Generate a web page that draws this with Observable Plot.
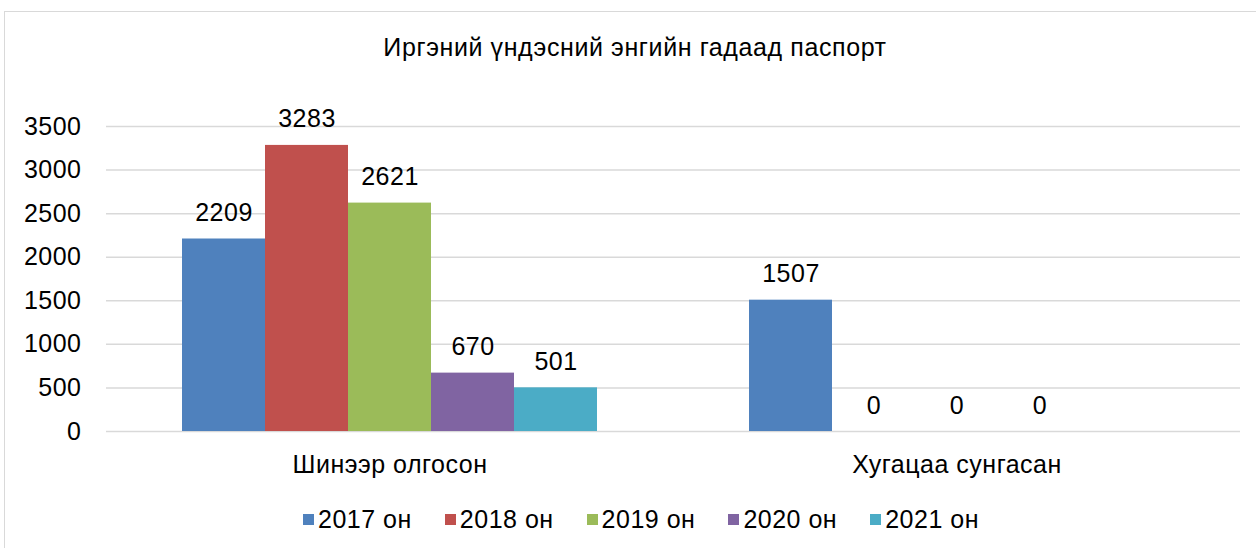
<!DOCTYPE html>
<html>
<head>
<meta charset="utf-8">
<script src="https://cdn.jsdelivr.net/npm/d3@7"></script>
<script src="https://cdn.jsdelivr.net/npm/@observablehq/plot@0.6"></script>
<style>
  html, body { margin: 0; padding: 0; background: #fff; overflow: hidden; width: 1256px; height: 548px; }
  body { position: relative; font-family: "Liberation Sans", Arial, sans-serif; color: #000; }
  #frame { position: absolute; left: 4px; top: 11px; width: 1300px; height: 600px; border: 1px solid #d9d9d9; box-sizing: border-box; }
  #chart { position: absolute; left: 0; top: 0; }
  #title { position: absolute; left: 0; width: 1270px; top: 33px; text-align: center; font-size: 25px; letter-spacing: 0.6px; line-height: 28px; }
  #legend { position: absolute; left: 0; width: 1282px; top: 505px; display: flex; justify-content: center; gap: 33px; font-size: 25px; letter-spacing: 0.5px; line-height: 28px; }
  #legend .item { display: flex; align-items: center; }
  #legend .sw { width: 11px; height: 11px; margin-right: 4px; }
</style>
</head>
<body>
<div id="frame"></div>
<div id="chart"></div>
<div id="title"></div>
<div id="legend"></div>
<script>
const titleText = "Иргэний үндэсний энгийн гадаад паспорт";
const groups = ["Шинээр олгосон", "Хугацаа сунгасан"];
const years = ["2017 он", "2018 он", "2019 он", "2020 он", "2021 он"];
const colors = ["#4F81BD", "#C0504D", "#9BBB59", "#8064A2", "#4BACC6"];
const valuesNew = [2209, 3283, 2621, 670, 501];
const valuesRenewed = [1507, 0, 0, 0, null];
const yTicks = [0, 500, 1000, 1500, 2000, 2500, 3000, 3500];

const table = [];
[valuesNew, valuesRenewed].forEach((vals, gi) => {
  vals.forEach((v, yi) => {
    if (v !== null) table.push({group: groups[gi], year: years[yi], value: v});
  });
});

const fs = 25;
const chart = Plot.plot({
  width: 1256,
  height: 548,
  marginLeft: 105,
  marginRight: 16,
  marginTop: 126,
  marginBottom: 117,
  style: {fontFamily: '"Liberation Sans", Arial, sans-serif', fontSize: fs + "px", background: "transparent", color: "#000", letterSpacing: "0.5px"},
  fx: {domain: groups, padding: 0, label: null},
  x: {domain: years, paddingInner: 0, paddingOuter: 0.9, axis: null},
  y: {domain: [0, 3500], label: null},
  color: {domain: years, range: colors},
  marks: [
    Plot.gridY(yTicks, {stroke: "#d9d9d9", strokeOpacity: 1, strokeWidth: 1.5}),
    Plot.barY(table, {fx: "group", x: "year", y: "value", fill: "year"}),
    Plot.text(table, {fx: "group", x: "year", y: "value", text: d => String(d.value), dy: -26, fill: "#000", fontSize: fs}),
    Plot.axisY(yTicks, {tickSize: 0, tickPadding: 25, fontSize: fs, label: null, fill: "#000", tickFormat: d => String(d)}),
    Plot.axisFx({anchor: "bottom", tickSize: 0, tickPadding: 24, fontSize: fs, label: null, fill: "#000"})
  ]
});
document.getElementById("chart").appendChild(chart);
document.getElementById("title").textContent = titleText;

const legend = document.getElementById("legend");
years.forEach((y, i) => {
  const item = document.createElement("div");
  item.className = "item";
  const sw = document.createElement("span");
  sw.className = "sw";
  sw.style.background = colors[i];
  const t = document.createElement("span");
  t.textContent = y;
  item.appendChild(sw);
  item.appendChild(t);
  legend.appendChild(item);
});
</script>
</body>
</html>
